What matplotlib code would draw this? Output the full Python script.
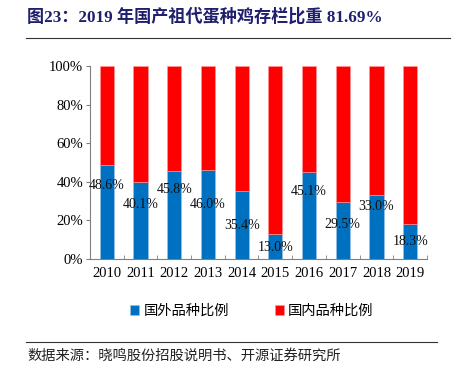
import matplotlib.pyplot as plt
import numpy as np

# 年份与比例数据
years = ['2010', '2011', '2012', '2013', '2014', '2015', '2016', '2017', '2018', '2019']
foreign = [48.6, 40.1, 45.8, 46.0, 35.4, 13.0, 45.1, 29.5, 33.0, 18.3]
domestic = [100 - v for v in foreign]
# 数据标签相对柱顶的下移量（原图标签位置不统一）
label_drop = [10.6, 12, 10, 18, 18, 7, 10, 11.5, 6, 9]

serif_cjk = ['Liberation Serif', 'Noto Sans CJK SC']

fig = plt.figure(figsize=(4.56, 3.70), dpi=100)
ax = fig.add_axes([90 / 456, 1 - 259 / 370, 337 / 456, 193 / 370])

x = np.arange(len(years))
ax.bar(x, foreign, width=0.42, color='#0070C0', edgecolor='#9DC3E6', linewidth=0.4,
       label='国外品种比例')
ax.bar(x, domestic, bottom=foreign, width=0.42, color='#FF0000', edgecolor='#FF9999',
       linewidth=0.4, label='国内品种比例')

for i, v in enumerate(foreign):
    ax.text(i, v - label_drop[i], f'{v:.1f}%', ha='center', va='center',
            fontsize=10, family='Liberation Serif', color='#111111')

ax.set_xlim(-0.5, len(years) - 0.5)
ax.set_ylim(0, 100)
ax.set_yticks(range(0, 101, 20))
ax.set_yticklabels([f'{t}%' for t in range(0, 101, 20)], family='Liberation Serif', fontsize=10.5)
ax.set_xticks(x)
ax.set_xticklabels(years, family='Liberation Serif', fontsize=10.5)
ax.tick_params(axis='x', length=0, pad=6)
ax.set_xticks(np.arange(-0.5, len(years), 1), minor=True)
ax.tick_params(axis='x', which='minor', direction='in', length=3, color='#808080')
ax.tick_params(axis='y', length=3, color='#808080', pad=2)
for s in ['top', 'right']:
    ax.spines[s].set_visible(False)
for s in ['left', 'bottom']:
    ax.spines[s].set_color('#808080')
    ax.spines[s].set_linewidth(0.8)

ax.legend(loc='center', bbox_to_anchor=(0.48, -0.27), ncol=2, frameon=False,
          handlelength=0.65, handleheight=0.65, handletextpad=0.3, columnspacing=3.2,
          prop={'family': 'Noto Sans CJK SC', 'size': 10.3, 'weight': 'light'})

fig.text(27 / 456, 1 - 17 / 370, '图23：2019 年国产祖代蛋种鸡存栏比重 81.69%', family=serif_cjk,
         fontsize=12.3, fontweight='bold', color='#1F1F6E', va='center')
fig.add_artist(plt.Line2D([26 / 456, 450 / 456], [1 - 38 / 370, 1 - 38 / 370], color='#333333', lw=0.8))
fig.add_artist(plt.Line2D([26 / 456, 437 / 456], [1 - 342 / 370, 1 - 342 / 370], color='#333333', lw=0.8))
fig.text(27 / 456, 1 - 356 / 370, '数据来源：晓鸣股份招股说明书、开源证券研究所', family='Noto Sans CJK SC',
         fontsize=10.3, weight='light', color='#222222', va='center')

fig.savefig('out.png', dpi=100)
